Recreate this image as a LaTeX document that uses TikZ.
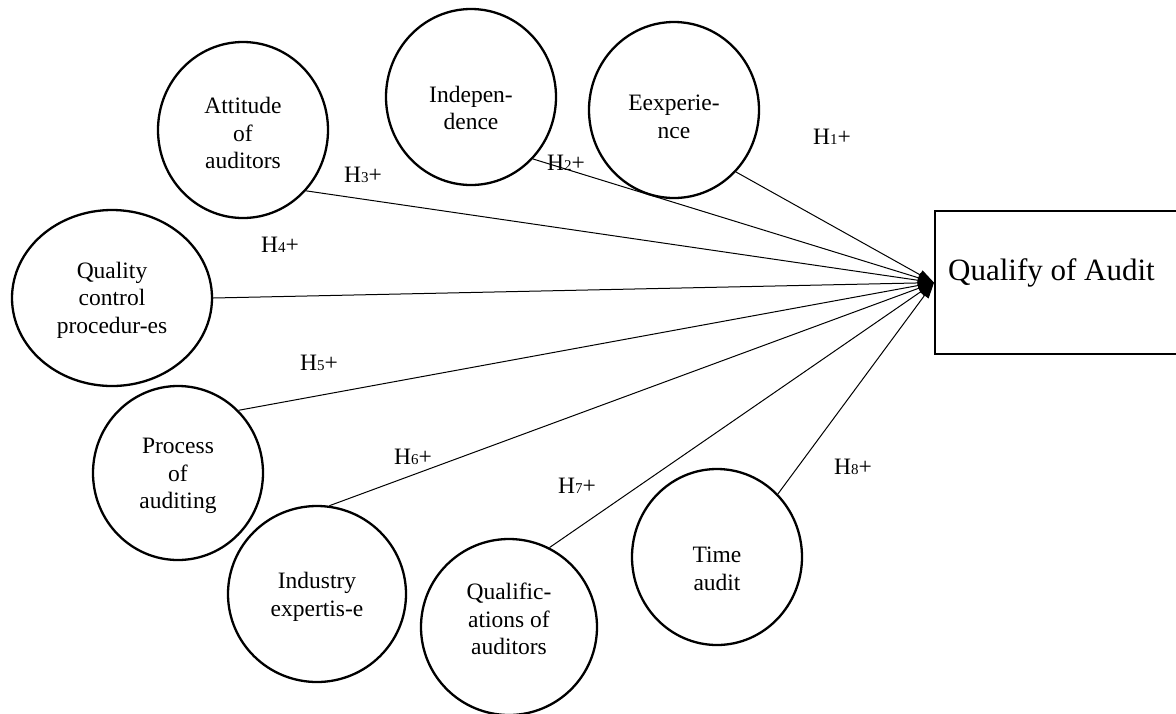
\documentclass[tikz,border=0pt]{standalone}
\usepackage{fontspec}
\setmainfont{Liberation Serif}
\usetikzlibrary{shapes.geometric,arrows.meta}
% hypothesis label: H with a small index digit and a plus sign
\newcommand\hyp[1]{H{\fontsize{15}{15}\selectfont #1}+}
\begin{document}
\begin{tikzpicture}[x=1pt,y=-1pt,
  factor/.style={ellipse,draw,line width=2.3pt,inner sep=0pt,
                 minimum width=170pt,minimum height=176pt},
  ftext/.style={align=center,inner sep=0pt,
                font=\fontsize{23.5}{27.5}\selectfont},
  hlabel/.style={inner sep=0pt,font=\fontsize{23.5}{27.5}\selectfont},
  link/.style={line width=1pt,-{Triangle[length=16pt,width=10pt]}},
  outcome/.style={draw,line width=2.2pt,inner sep=0pt}
]
\useasboundingbox (0,0) rectangle (1176,713);

% dependent variable
\node[outcome,anchor=north west,minimum width=262pt,minimum height=143pt] (qa) at (934,210) {};
\node[anchor=base west,inner sep=0pt,font=\fontsize{31}{36}\selectfont] (qat) at (948,280) {Qualify of Audit};
\coordinate (tip) at (qa.west);

% independent variables
\node[factor] (exp) at (674,110) {};
\node[ftext] (expt) at (674,117) {Eexperie-\\nce};
\node[factor] (ind) at (471,97) {};
\node[ftext] (indt) at (471,108) {Indepen-\\dence};
\node[factor] (att) at (243,130) {};
\node[ftext] (attt) at (243,133) {Attitude\\of\\auditors};
\node[factor,minimum width=200pt] (qc) at (112,298) {};
\node[ftext] (qct) at (112,300) {Quality\\control\\procedur-es};
\node[factor,minimum height=174pt] (proc) at (178,473) {};
\node[ftext] (proct) at (178,476) {Process\\of\\auditing};
\node[factor,minimum width=178pt] (indx) at (317,594) {};
\node[ftext] (indxt) at (317,597) {Industry\\expertis-e};
\node[factor,minimum width=176pt] (qual) at (509,627) {};
\node[ftext] (qualt) at (509,619) {Qualific-\\ations of\\auditors};
\node[factor] (time) at (717,557) {};
\node[ftext] (timet) at (717,569) {Time\\audit};

% hypothesised paths
\draw[link] (exp.-45.5) -- (tip);
\draw[link] (ind.-45) -- (tip);
\draw[link] (att.-44.5) -- (tip);
\draw[link] (qc.0) -- (tip);
\draw[link] (proc.46) -- (tip);
\draw[link] (indx.82) -- (tip);
\draw[link] (qual.63.4) -- (tip);
\draw[link] (time.46.8) -- (tip);

% hypothesis labels
\node[hlabel] (h1) at (832,137) {\hyp{1}};
\node[hlabel] (h2) at (566,163) {\hyp{2}};
\node[hlabel] (h3) at (363,175) {\hyp{3}};
\node[hlabel] (h4) at (280,245) {\hyp{4}};
\node[hlabel] (h5) at (319,363) {\hyp{5}};
\node[hlabel] (h6) at (413,457) {\hyp{6}};
\node[hlabel] (h7) at (577,486) {\hyp{7}};
\node[hlabel] (h8) at (853,467) {\hyp{8}};
\end{tikzpicture}
\end{document}
